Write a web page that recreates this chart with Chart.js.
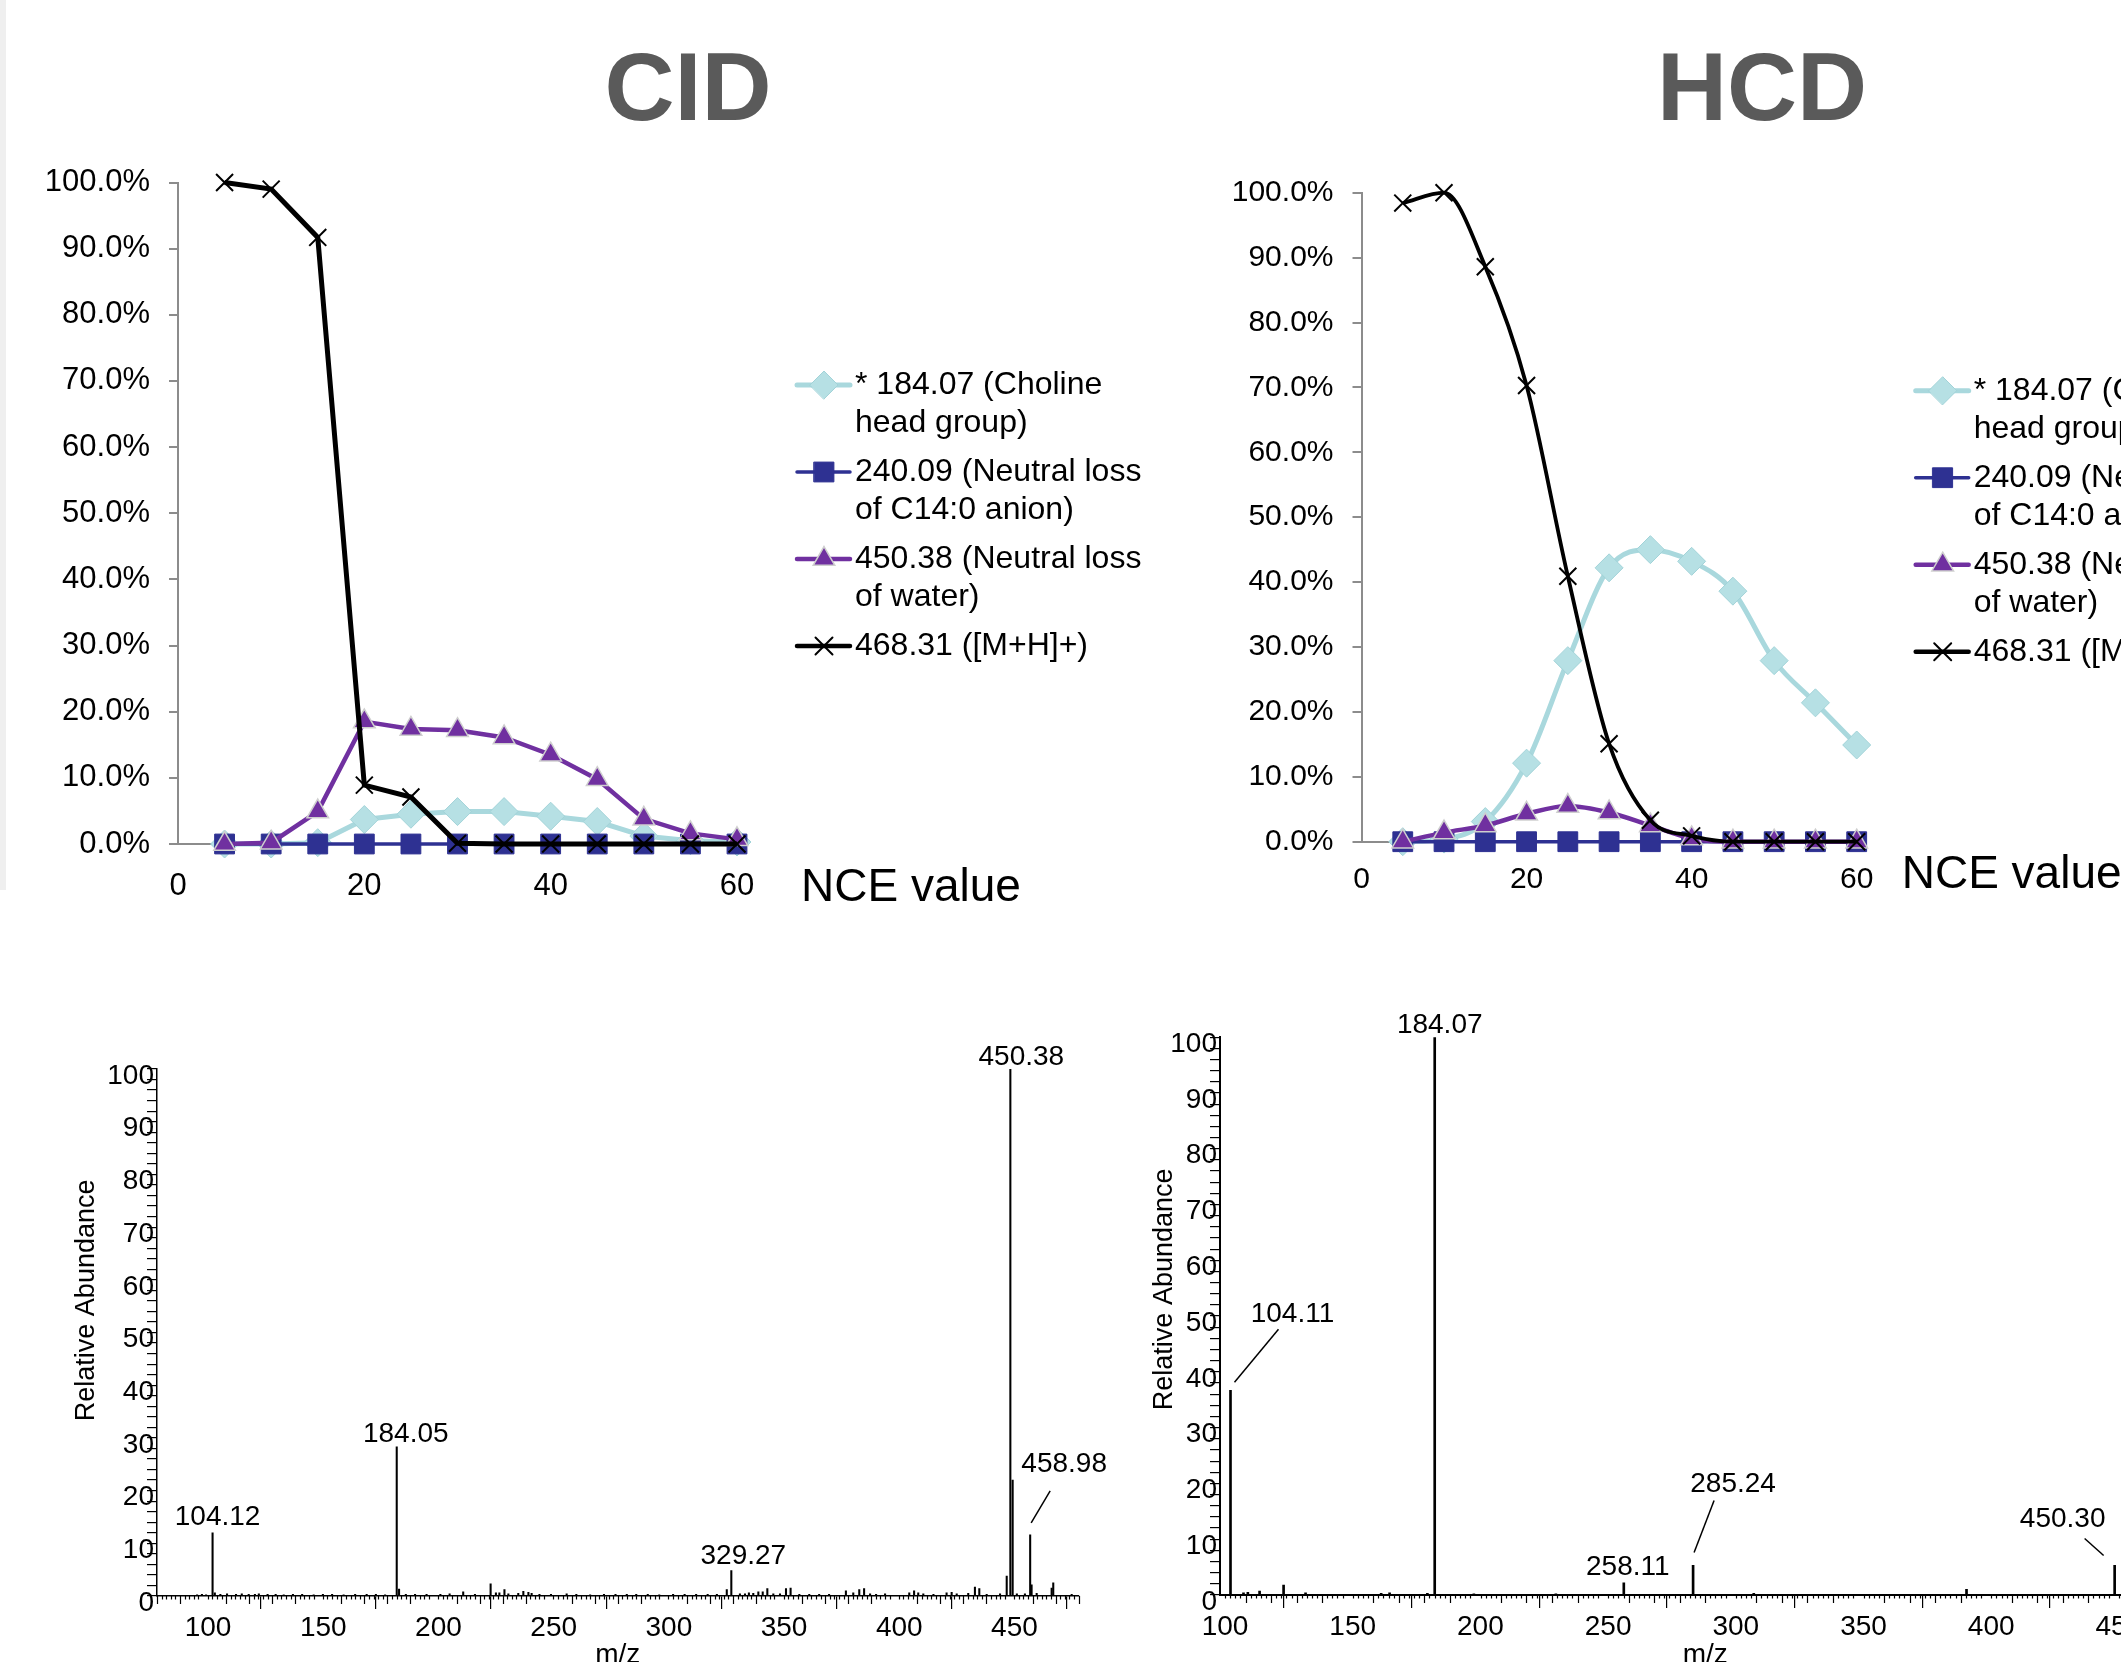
<!DOCTYPE html>
<html lang="en">
<head>
<meta charset="utf-8">
<title>CID vs HCD</title>
<script src="https://cdn.jsdelivr.net/npm/chart.js@4.4.1/dist/chart.umd.min.js"></script>
<style>
  html, body { margin: 0; padding: 0; background: #fff; }
  body { position: relative; width: 2121px; height: 1662px; overflow: hidden; font-family: 'Liberation Sans', Arial, sans-serif; }
  canvas { position: absolute; }
  .titulo { position: absolute; top: 38px; font-size: 97px; font-weight: bold; line-height: 1; color: #5a5a5a; transform: translateX(-50%); white-space: nowrap; }
  .borde { position: absolute; left: 0; top: 0; width: 6px; height: 890px; background: #efefef; }
</style>
</head>
<body>
<div class="borde"></div>
<div class="titulo" style="left:688px">CID</div>
<div class="titulo" style="left:1762px">HCD</div>

<canvas id="cid-curvas" width="1200" height="850" style="left:0;top:100px"></canvas>
<canvas id="hcd-curvas" width="1100" height="850" style="left:1200px;top:100px"></canvas>
<canvas id="cid-espectro" width="1080" height="700" style="left:60px;top:1000px"></canvas>
<canvas id="hcd-espectro" width="1150" height="700" style="left:1130px;top:1000px"></canvas>

<script>
// --- datos: curvas de fragmentación (% vs NCE) ---
const nce = [5, 10, 15, 20, 25, 30, 35, 40, 45, 50, 55, 60];

const cidColina   = [0, 0, 0.2, 3.7, 4.5, 4.9, 4.9, 4.2, 3.4, 1.2, 0.5, 0.3];
const cidAnion    = [0, 0, 0, 0, 0, 0, 0, 0, 0, 0, 0, 0];
const cidAgua     = [0, 0.2, 4.9, 18.5, 17.4, 17.2, 16.1, 13.5, 9.8, 3.8, 1.6, 0.7];
const cidPrecursor = [100, 99.0, 91.7, 8.9, 7.1, 0.1, 0, 0, 0, 0, 0, 0];

const hcdColina   = [0, 0.4, 3.1, 12.1, 27.9, 42.2, 45.0, 43.2, 38.6, 27.9, 21.4, 14.9];
const hcdAnion    = [0, 0, 0, 0, 0, 0, 0, 0, 0, 0, 0, 0];
const hcdAgua     = [0, 1.4, 2.5, 4.3, 5.5, 4.5, 2.5, 0.5, 0, 0, 0, 0];
const hcdPrecursor = [98.4, 100, 88.6, 70.3, 40.9, 15.1, 3.3, 0.9, 0, 0, 0, 0];

const nombresSeries = [
    ['* 184.07 (Choline', 'head group)'],
    ['240.09 (Neutral loss', 'of C14:0 anion)'],
    ['450.38 (Neutral loss', 'of water)'],
    ['468.31 ([M+H]+)']
];
const ticksPorcentaje = [0, 10, 20, 30, 40, 50, 60, 70, 80, 90, 100];

// --- datos: espectros (m/z, abundancia relativa) ---
const cidMz = [
    97.4, 99.5, 101.3, 104.12, 105.1, 107.5, 110.4, 114.3, 116.8, 119.8, 122.5, 124.2, 128, 131.5, 135, 139, 143, 148,
    152, 156, 161, 166, 171, 175, 179, 184.05, 185.06, 188, 192, 197, 203, 207, 212.9, 218, 224.8, 227.1, 228.6,
    230.8, 232.5, 236.8, 239.0, 241.2, 242.6, 246, 251, 257.8, 262, 268, 274, 279, 283.9, 288, 293, 298, 304, 309,
    314, 319, 323, 327.3, 329.27, 333.0, 335.2, 336.9, 338.8, 341.0, 342.9, 344.9, 347.5, 350.4, 353.0, 355.0,
    358.8, 363.1, 367.4, 371.7, 379.0, 382.2, 384.8, 386.9, 389.5, 392.1, 396.0, 406.5, 408.6, 410.4, 412.6, 417.0,
    422.7, 424.9, 427.1, 432.1, 435.0, 436.9, 440.1, 445.9, 448.8, 450.38, 451.38, 453.2, 456.7, 458.98, 459.6,
    461.8, 468.3, 469.0, 477.0
];
const cidAbund = [
    0.2, 0.3, 0.2, 12.0, 0.6, 0.3, 0.4, 0.3, 0.4, 0.3, 0.3, 0.4, 0.3, 0.3, 0.2, 0.3, 0.3, 0.2,
    0.3, 0.3, 0.2, 0.3, 0.3, 0.3, 0.2, 28.3, 1.3, 0.3, 0.3, 0.3, 0.3, 0.4, 0.8, 0.3, 2.3, 0.6, 0.6,
    1.2, 0.4, 0.5, 0.9, 0.7, 0.5, 0.3, 0.3, 0.4, 0.3, 0.2, 0.3, 0.3, 0.3, 0.3, 0.3, 0.2, 0.3, 0.3,
    0.3, 0.3, 0.3, 1.2, 4.8, 0.4, 0.4, 0.6, 0.5, 0.8, 0.8, 1.4, 0.4, 0.4, 1.4, 1.5,
    0.3, 0.3, 0.3, 0.3, 1.0, 0.6, 1.2, 1.4, 0.4, 0.3, 0.4, 0.6, 1.0, 0.6, 0.4, 0.3,
    0.6, 0.7, 0.4, 0.5, 1.7, 1.4, 0.3, 0.4, 3.8, 100, 22.0, 0.4, 0.4, 11.6, 2.1,
    0.5, 1.5, 2.5, 0.3
];
const cidEtiquetas = [[104.12, '104.12'], [184.05, '184.05'], [329.27, '329.27'], [450.38, '450.38'], [458.98, '458.98']];

const hcdMz = [104.11, 109.2, 110.9, 115.5, 124.9, 133.5, 163.1, 166.4, 181.2, 184.07, 199.4, 231.5, 258.11, 285.24, 309.0, 392.3, 450.30];
const hcdAbund = [36.7, 0.4, 0.5, 0.7, 1.8, 0.4, 0.3, 0.4, 0.3, 100, 0.2, 0.2, 2.2, 5.3, 0.3, 1.0, 5.3];
const hcdEtiquetas = [[104.11, '104.11'], [184.07, '184.07'], [258.11, '258.11'], [285.24, '285.24'], [450.30, '450.30']];

const ticksMz = [100, 150, 200, 250, 300, 350, 400, 450];

// --- estilos ---
const fuente = "'Liberation Sans', Arial, sans-serif";
const gris = '#8c8c8c';
const estilos = [
    { color: '#a9d8dd', relleno: '#b6e0e4', borde: '#a2d3d8', punto: 'rectRot', radio: 14, ancho: 5, bordePunto: 1 },
    { color: '#2e3192', relleno: '#2e3192', borde: '#2e3192', punto: 'rect', radio: 14, ancho: 3.5, bordePunto: 1 },
    { color: '#7030a0', relleno: '#7030a0', borde: '#cfcfcf', punto: 'triangle', radio: 12.5, ancho: 4.5, bordePunto: 1.5 },
    { color: '#000000', relleno: '#000000', borde: '#000000', punto: 'crossRot', radio: 12, ancho: 4.5, bordePunto: 2 }
];

function marcador(ctx, est, x, y) {
    ctx.fillStyle = est.relleno;
    ctx.strokeStyle = est.borde;
    ctx.lineWidth = est.bordePunto;
    Chart.helpers.drawPoint(ctx, { pointStyle: est.punto, radius: est.radio, rotation: 0, borderWidth: est.bordePunto }, x, y);
}

// leyenda a la derecha + rótulo "NCE value"
const leyendaNce = {
    id: 'leyendaNce',
    afterDraw(chart, args, o) {
        const ctx = chart.ctx;
        const area = chart.chartArea;
        ctx.save();
        ctx.textBaseline = 'middle';
        ctx.textAlign = 'left';
        let y = area.top + o.arriba;
        const x0 = area.right + o.izquierda;
        nombresSeries.forEach((lineas, i) => {
            const est = estilos[i];
            ctx.strokeStyle = est.color;
            ctx.lineWidth = est.ancho;
            ctx.lineCap = 'round';
            ctx.beginPath();
            ctx.moveTo(x0, y);
            ctx.lineTo(x0 + 53, y);
            ctx.stroke();
            marcador(ctx, est, x0 + 27, y);
            ctx.fillStyle = '#000';
            ctx.font = `${o.tamLeyenda}px ${fuente}`;
            lineas.forEach((t, j) => ctx.fillText(t, x0 + 58, y + j * 38));
            y += 87;
        });
        ctx.font = `${o.tamEje}px ${fuente}`;
        ctx.fillStyle = '#000';
        ctx.fillText('NCE value', area.right + o.ejeDx, area.bottom + o.ejeDy);
        ctx.restore();
    }
};

function graficaNce(id, series, cfg) {
    const datasets = series.map((vals, i) => {
        const est = estilos[i];
        return {
            label: nombresSeries[i].join(' '),
            data: nce.map((x, k) => ({ x, y: vals[k] })),
            borderColor: est.color,
            backgroundColor: est.relleno,
            borderWidth: i === 3 ? cfg.anchoNegro : est.ancho,
            pointStyle: est.punto,
            pointRadius: est.radio,
            pointBackgroundColor: est.relleno,
            pointBorderColor: est.borde,
            pointBorderWidth: est.bordePunto,
            tension: cfg.suave ? 0.4 : 0,
            cubicInterpolationMode: cfg.suave ? 'monotone' : 'default',
            clip: false,
            order: 4 - i
        };
    });

    new Chart(document.getElementById(id), {
        type: 'line',
        data: { datasets },
        options: {
            responsive: false,
            animation: false,
            layout: { padding: { left: 0, top: cfg.arriba, right: cfg.derecha, bottom: 0 } },
            plugins: {
                legend: { display: false },
                tooltip: { enabled: false },
                leyendaNce: cfg.leyenda
            },
            scales: {
                x: {
                    type: 'linear',
                    min: 0,
                    max: 60,
                    afterFit: s => { s.height = cfg.altoX; },
                    grid: { display: false },
                    border: { display: true, color: gris, width: 2 },
                    ticks: {
                        stepSize: 20,
                        padding: cfg.padX,
                        color: '#000',
                        font: { family: fuente, size: cfg.tamTick },
                        maxRotation: 0
                    }
                },
                y: {
                    min: 0,
                    max: 100,
                    afterFit: s => { s.width = cfg.anchoY; },
                    afterBuildTicks: s => { s.ticks = ticksPorcentaje.map(v => ({ value: v })); },
                    grid: { drawOnChartArea: false, drawTicks: true, tickLength: 9, color: gris, lineWidth: 2 },
                    border: { display: true, color: gris, width: 2 },
                    ticks: {
                        padding: 19,
                        color: '#000',
                        font: { family: fuente, size: cfg.tamTick },
                        callback: v => v.toFixed(1) + '%'
                    }
                }
            }
        },
        plugins: [leyendaNce]
    });
}

graficaNce('cid-curvas', [cidColina, cidAnion, cidAgua, cidPrecursor], {
    arriba: 82.5, derecha: 463, altoX: 106, anchoY: 178, padX: 16, tamTick: 31, anchoNegro: 5, suave: false,
    leyenda: { arriba: 202.5, izquierda: 60, tamLeyenda: 32, tamEje: 46, ejeDx: 64, ejeDy: 44 }
});

graficaNce('hcd-curvas', [hcdColina, hcdAnion, hcdAgua, hcdPrecursor], {
    arriba: 92.7, derecha: 443.3, altoX: 108.3, anchoY: 161.5, padX: 12, tamTick: 30, anchoNegro: 3.8, suave: true,
    leyenda: { arriba: 198, izquierda: 59, tamLeyenda: 32, tamEje: 46, ejeDx: 45, ejeDy: 33.5 }
});

// --- espectros ---
const decoEspectro = {
    id: 'decoEspectro',
    afterDraw(chart, args, o) {
        const ctx = chart.ctx;
        const area = chart.chartArea;
        const sx = chart.scales.x;
        const sy = chart.scales.y;
        ctx.save();
        ctx.strokeStyle = '#000';
        ctx.lineWidth = 1.2;
        // marcas menores cada 2 y medias cada 10
        for (let v = Math.ceil(sx.min / 2) * 2; v <= sx.max; v += 2) {
            if (v % 50 === 0) continue;
            const px = Math.round(sx.getPixelForValue(v)) + 0.5;
            const largo = v % 10 === 0 ? 8 : 3.5;
            ctx.beginPath();
            ctx.moveTo(px, area.bottom);
            ctx.lineTo(px, area.bottom + largo);
            ctx.stroke();
        }
        // etiquetas de picos
        const ds = chart.data.datasets[0].data;
        ctx.font = `28px ${fuente}`;
        ctx.fillStyle = '#000';
        ctx.textAlign = 'center';
        ctx.textBaseline = 'middle';
        ctx.lineWidth = 1.5;
        o.etiquetas.forEach(([mz, texto], i) => {
            const pico = ds.find(p => p.x === mz);
            const px = sx.getPixelForValue(mz);
            const py = sy.getPixelForValue(pico.y);
            const pos = o.posiciones[i];
            ctx.fillText(texto, px + pos.dx, py + pos.dy);
            if (pos.guia) {
                const g = pos.guia;
                ctx.beginPath();
                ctx.moveTo(px + g[0], py + g[1]);
                ctx.lineTo(px + g[2], py + g[3]);
                ctx.stroke();
            }
        });
        // título del eje y
        ctx.translate(area.left + o.tituloDx, area.top + o.tituloFrac * (area.bottom - area.top));
        ctx.rotate(-Math.PI / 2);
        ctx.font = `27px ${fuente}`;
        ctx.fillText('Relative Abundance', 0, 0);
        ctx.restore();
    }
};

function espectro(id, mzs, abund, cfg) {
    new Chart(document.getElementById(id), {
        type: 'bar',
        data: {
            datasets: [{
                data: mzs.map((x, i) => ({ x, y: abund[i] })),
                backgroundColor: '#000',
                borderWidth: 0,
                barThickness: cfg.grosor,
                grouped: false
            }]
        },
        options: {
            responsive: false,
            animation: false,
            layout: { padding: { left: 0, top: cfg.arriba, right: cfg.derecha, bottom: 0 } },
            plugins: {
                legend: { display: false },
                tooltip: { enabled: false },
                decoEspectro: cfg.deco
            },
            scales: {
                x: {
                    type: 'linear',
                    min: cfg.min,
                    max: cfg.max,
                    offset: false,
                    afterFit: s => { s.height = cfg.altoX; },
                    afterBuildTicks: s => { s.ticks = ticksMz.map(v => ({ value: v })); },
                    grid: { drawOnChartArea: false, drawTicks: true, tickLength: 13, color: '#000', lineWidth: 1.2 },
                    border: { display: true, color: '#000', width: cfg.borde },
                    ticks: {
                        autoSkip: false,
                        maxRotation: 0,
                        padding: 2,
                        labelOffset: 5,
                        color: '#000',
                        font: { family: fuente, size: 28 }
                    },
                    title: {
                        display: true,
                        text: 'm/z',
                        color: '#000',
                        font: { family: fuente, size: 28 },
                        padding: { top: 0, bottom: 28 }
                    }
                },
                y: {
                    min: 0,
                    max: 100,
                    afterFit: s => { s.width = cfg.anchoY; },
                    grid: { drawOnChartArea: false, drawTicks: true, tickLength: 10, color: '#000', lineWidth: 1.2 },
                    border: { display: true, color: '#000', width: cfg.borde },
                    ticks: {
                        stepSize: 2,
                        autoSkip: false,
                        padding: -7,
                        labelOffset: 7,
                        color: '#000',
                        font: { family: fuente, size: 28 },
                        callback: v => (v % 10 === 0 ? v : '')
                    }
                }
            }
        },
        plugins: [decoEspectro]
    });
}

espectro('cid-espectro', cidMz, cidAbund, {
    min: 80, max: 480, arriba: 69, derecha: 61.4, altoX: 104, anchoY: 97, grosor: 1.4, borde: 1.5,
    deco: {
        etiquetas: cidEtiquetas,
        posiciones: [
            { dx: 5, dy: -15 },
            { dx: 9, dy: -13 },
            { dx: 12, dy: -14 },
            { dx: 11, dy: -12 },
            { dx: 34, dy: -71, guia: [1, -12, 20, -44] }
        ],
        tituloDx: -70, tituloFrac: 0.439
    }
});

espectro('hcd-espectro', hcdMz, hcdAbund, {
    min: 100, max: 480, arriba: 37.2, derecha: 89.5, altoX: 105, anchoY: 90, grosor: 2, borde: 2,
    deco: {
        etiquetas: hcdEtiquetas,
        posiciones: [
            { dx: 62, dy: -76, guia: [4, -8, 48, -61] },
            { dx: 5, dy: -12 },
            { dx: 4, dy: -15 },
            { dx: 40, dy: -81, guia: [1, -13, 21, -65] },
            { dx: -52, dy: -46, guia: [-11, -10, -30, -27] }
        ],
        tituloDx: -55, tituloFrac: 0.452
    }
});
</script>
</body>
</html>
